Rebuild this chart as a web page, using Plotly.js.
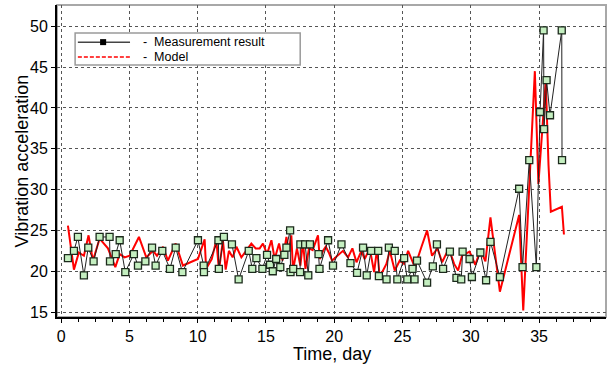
<!DOCTYPE html>
<html>
<head>
<meta charset="utf-8">
<script src="https://cdn.plot.ly/plotly-3.0.1.min.js"></script>
<style>
  html, body { margin: 0; padding: 0; background: #fff; }
  #chart { width: 608px; height: 365px; }
</style>
</head>
<body>
<div id="chart"></div>
<script>
// Measured vibration acceleration (time in days)
const measTime = [
  0.50, 0.94, 1.23, 1.67, 1.99, 2.38, 2.82, 3.55, 3.58, 4.00,
  4.29, 4.70, 5.33, 5.63, 6.17, 6.66, 6.92, 7.41, 7.97, 8.39,
  8.88, 10.02, 10.44, 10.46, 11.52, 11.55, 11.92, 12.51, 13.00, 13.74,
  14.00, 14.30, 14.74, 15.08, 15.30, 15.50, 15.75, 16.05, 16.35, 16.50,
  16.77, 16.80, 17.00, 17.50, 17.52, 17.87, 18.10, 18.22, 18.85, 18.92,
  19.55, 19.91, 20.53, 21.19, 21.67, 22.11, 22.38, 22.70, 23.22, 23.27,
  23.83, 24.00, 24.43, 24.62, 25.12, 25.35, 25.73, 25.88, 26.06, 26.80,
  27.22, 27.52, 27.97, 28.47, 28.95, 29.30, 29.40, 29.91, 30.08, 30.70,
  31.12, 31.44, 32.13, 33.54, 33.79, 34.28, 34.80, 35.07, 35.33, 35.36,
  35.55, 35.80, 36.66, 36.68
];
const measValue = [
  21.6, 22.5, 24.2, 19.5, 22.9, 21.2, 24.2, 24.2, 21.2, 22.1,
  23.8, 19.9, 22.1, 20.7, 21.2, 22.9, 20.7, 22.5, 20.3, 22.9,
  19.9, 23.8, 20.7, 19.9, 23.8, 20.3, 24.2, 23.3, 19.0, 22.5,
  20.3, 21.6, 20.3, 22.0, 20.8, 20.0, 21.5, 20.5, 22.0, 22.9,
  25.0, 19.9, 20.3, 19.9, 23.3, 23.3, 19.5, 23.3, 22.1, 20.3,
  23.8, 20.7, 23.3, 21.0, 19.8, 22.9, 19.5, 22.5, 22.5, 19.4,
  19.0, 22.9, 22.5, 19.0, 21.6, 19.0, 20.3, 19.0, 21.3, 18.6,
  20.6, 23.3, 20.3, 22.4, 19.2, 19.0, 22.4, 21.5, 19.3, 22.3,
  18.9, 23.6, 19.3, 30.1, 20.5, 33.6, 20.5, 39.5, 49.5, 37.4,
  43.4, 39.1, 49.5, 33.6
];

// Model prediction
const modelTime = [
  0.50, 0.94, 1.30, 1.67, 2.01, 2.33, 2.82, 3.43, 3.97, 4.29,
  4.65, 5.02, 5.70, 6.24, 6.73, 7.02, 7.46, 7.82, 8.39, 8.92,
  10.02, 10.51, 10.62, 11.03, 11.37, 11.56, 11.85, 12.05, 12.29, 12.56,
  12.84, 13.20, 13.68, 13.93, 14.25, 14.54, 14.78, 15.08, 15.40, 15.64,
  15.96, 16.21, 16.50, 16.67, 16.86, 16.98, 17.27, 17.52, 17.71, 17.89,
  18.15, 18.42, 18.81, 18.94, 19.18, 19.38, 19.60, 19.84, 20.23, 20.64,
  21.01, 21.33, 21.63, 21.99, 22.23, 22.60, 22.92, 23.14, 23.33, 23.82,
  24.07, 24.43, 24.80, 25.11, 25.41, 25.90, 26.39, 26.80, 27.16, 27.56,
  27.90, 28.39, 28.78, 29.07, 29.36, 29.91, 30.33, 30.70, 31.07, 31.44,
  31.68, 32.13, 33.54, 33.84, 34.69, 34.95, 35.49, 35.69, 35.86, 36.67,
  36.82
];
const modelValue = [
  25.6, 20.2, 22.3, 21.9, 24.4, 21.3, 24.0, 22.8, 20.5, 22.1,
  21.7, 21.9, 24.2, 21.7, 22.5, 21.9, 23.0, 21.3, 23.4, 20.7,
  21.5, 23.9, 20.3, 21.5, 23.8, 20.1, 23.8, 20.2, 22.5, 21.7,
  23.0, 21.7, 22.8, 23.4, 22.8, 22.8, 23.4, 22.1, 23.8, 21.5,
  23.4, 21.3, 24.2, 22.5, 24.4, 20.1, 22.8, 20.7, 23.6, 20.3,
  22.8, 22.6, 24.4, 21.5, 22.5, 23.0, 22.3, 21.3, 21.9, 22.5,
  21.7, 22.8, 21.1, 22.5, 21.5, 22.8, 19.9, 22.8, 19.3, 20.9,
  22.5, 20.1, 21.3, 20.9, 22.5, 20.5, 23.0, 25.0, 21.9, 22.8,
  21.1, 22.8, 20.9, 20.1, 21.9, 22.4, 20.8, 22.6, 21.2, 26.6,
  23.4, 17.5, 26.9, 15.2, 44.5, 30.7, 43.3, 33.0, 27.3, 27.9,
  24.5
];

const legendLabels = ['-\u00a0\u00a0Measurement result', '-\u00a0\u00a0Model'];
const xTitle = 'Time, day';
const yTitle = 'Vibration acceleration';
const xTicks = [0, 5, 10, 15, 20, 25, 30, 35];
const yTicks = [15, 20, 25, 30, 35, 40, 45, 50];

const FONT = 'Liberation Sans, Arial, sans-serif';

const traces = [
  {
    x: modelTime, y: modelValue, type: 'scatter', mode: 'lines',
    line: { color: '#ff0000', width: 2 },
    showlegend: false, hoverinfo: 'skip'
  },
  {
    x: measTime, y: measValue, type: 'scatter', mode: 'lines+markers',
    line: { color: '#222222', width: 1 },
    marker: { symbol: 'square', size: 7, color: '#c4efc0', line: { color: '#1c2a1c', width: 1.3 } },
    showlegend: false, hoverinfo: 'skip'
  }
];

const gridCommon = {
  showgrid: true, gridcolor: '#555555', gridwidth: 1, griddash: 'dot',
  zeroline: false, showline: true, linecolor: '#000000', linewidth: 2,
  ticks: 'outside', ticklen: 4, tickwidth: 1, tickcolor: '#000000',
  tickfont: { family: FONT, size: 16, color: '#000000' }
};

// legend box, drawn in paper units inside the plot area
const LG = { x0: 0.033, x1: 0.443, y0: 0.808, y1: 0.910, sx0: 0.038, sx1: 0.133, mx: 0.084,
             row1: 0.881, row2: 0.833, tx: 0.153 };

const layout = {
  width: 608, height: 365,
  margin: { l: 57, r: 2, t: 5, b: 48 },
  paper_bgcolor: '#ffffff', plot_bgcolor: '#ffffff',
  font: { family: FONT, color: '#000000' },
  showlegend: false,
  xaxis: Object.assign({}, gridCommon, {
    range: [-0.3, 39.9], tickmode: 'array', tickvals: xTicks,
    ticklabelstandoff: 0,
    minor: { dtick: 1.25, ticks: 'outside', ticklen: 3, tickcolor: '#000000', showgrid: false }
  }),
  yaxis: Object.assign({}, gridCommon, {
    range: [14.4, 52.6], tickmode: 'array', tickvals: yTicks
  }),
  shapes: [
    { type: 'rect', xref: 'paper', yref: 'paper', x0: 0, x1: 1, y0: 0, y1: 1,
      line: { color: '#a8a8a8', width: 2 }, layer: 'below' },
    { type: 'rect', xref: 'paper', yref: 'paper', x0: LG.x0, x1: LG.x1, y0: LG.y0, y1: LG.y1,
      fillcolor: '#ffffff', line: { color: '#9a9a9a', width: 1.5 } },
    { type: 'line', xref: 'paper', yref: 'paper', x0: LG.sx0, x1: LG.sx1, y0: LG.row1, y1: LG.row1,
      line: { color: '#444444', width: 1.5 } },
    { type: 'rect', xref: 'paper', yref: 'paper', x0: LG.mx - 0.0055, x1: LG.mx + 0.0055,
      y0: LG.row1 - 0.0096, y1: LG.row1 + 0.0096, fillcolor: '#000000', line: { width: 0 } },
    { type: 'line', xref: 'paper', yref: 'paper', x0: LG.sx0, x1: LG.sx1, y0: LG.row2, y1: LG.row2,
      line: { color: '#ff0000', width: 1.5, dash: '4px,2px' } }
  ],
  annotations: [
    { xref: 'paper', yref: 'paper', x: LG.tx, y: LG.row1, xanchor: 'left', yanchor: 'middle',
      text: legendLabels[0], showarrow: false, font: { family: FONT, size: 12.5, color: '#000000' } },
    { xref: 'paper', yref: 'paper', x: LG.tx, y: LG.row2, xanchor: 'left', yanchor: 'middle',
      text: legendLabels[1], showarrow: false, font: { family: FONT, size: 12.5, color: '#000000' } },
    // axis titles
    { xref: 'paper', yref: 'paper', x: 0.5, y: -0.118, xanchor: 'center', yanchor: 'middle',
      text: xTitle, showarrow: false, font: { family: FONT, size: 18, color: '#000000' } },
    { xref: 'paper', yref: 'paper', x: -0.063, y: 0.5, xanchor: 'center', yanchor: 'middle',
      text: yTitle, textangle: -90, showarrow: false, font: { family: FONT, size: 18, color: '#000000' } }
  ]
};

Plotly.newPlot('chart', traces, layout, { staticPlot: true, displayModeBar: false });
</script>
</body>
</html>
